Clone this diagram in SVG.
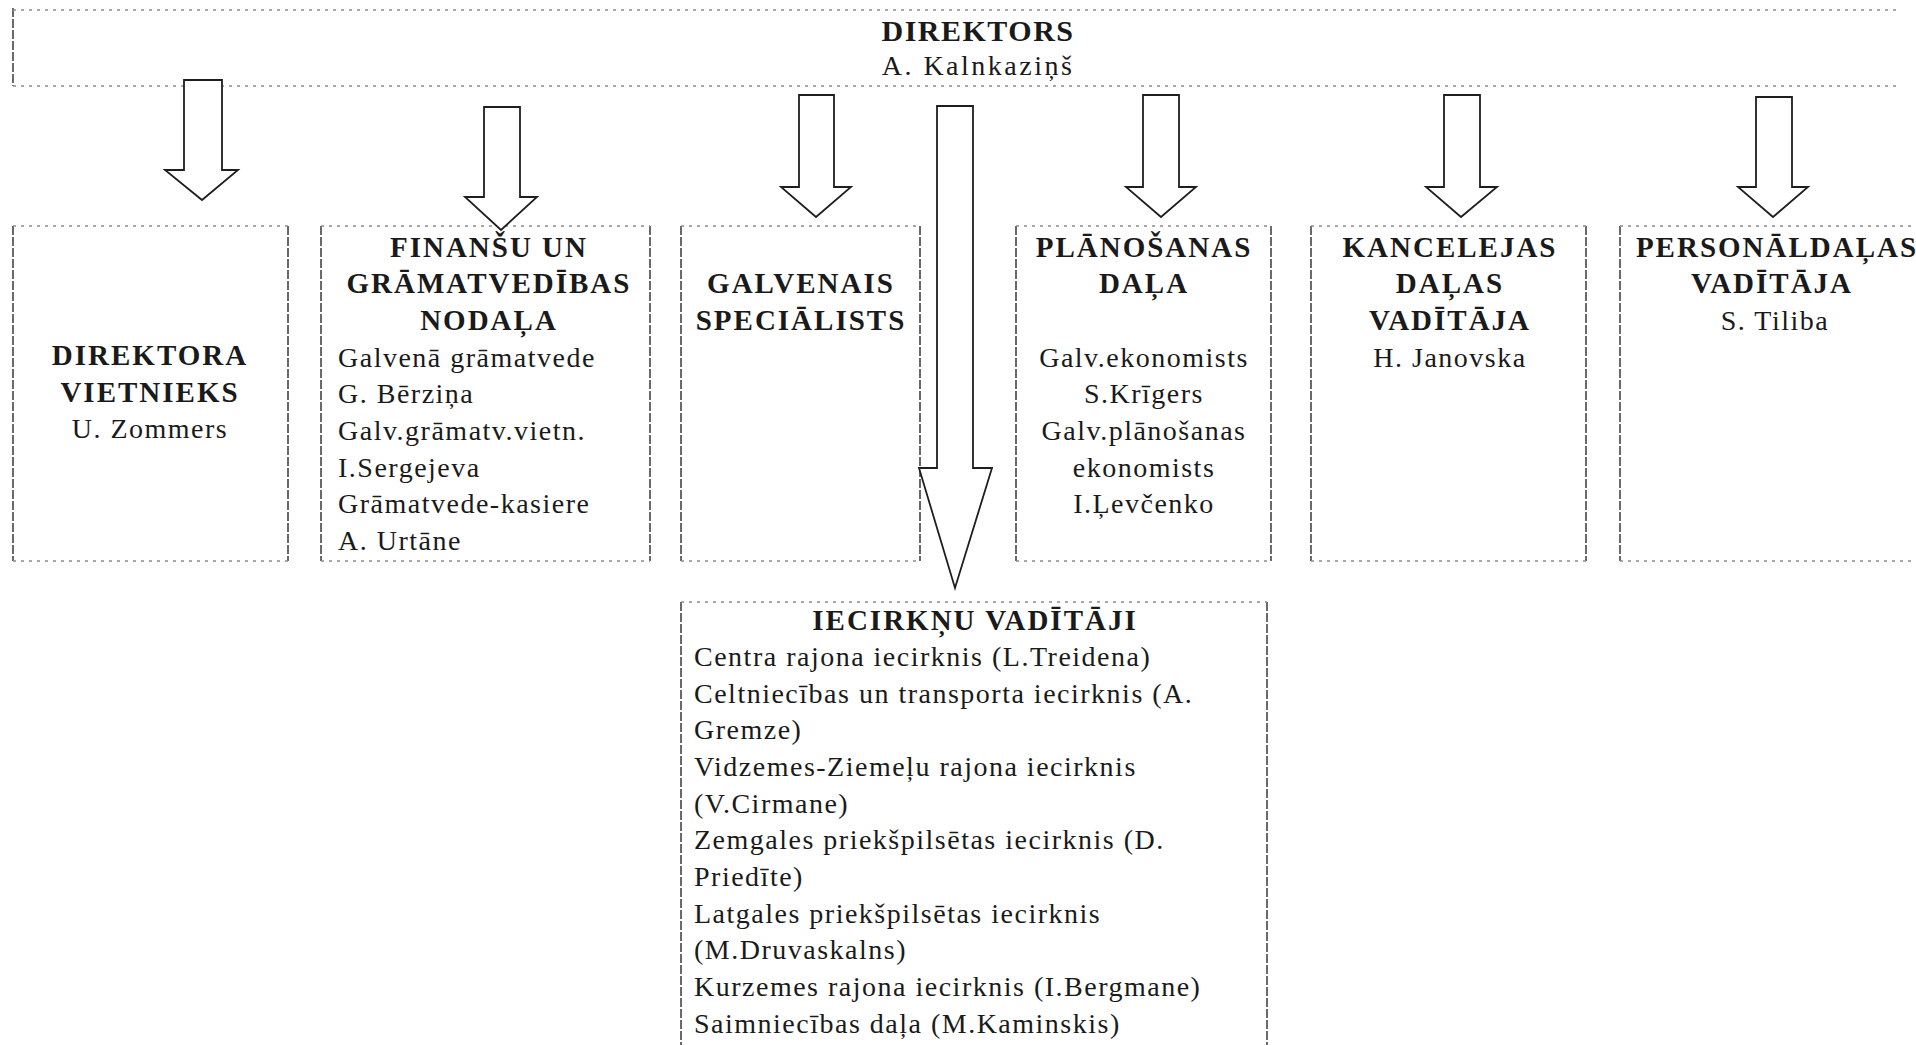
<svg xmlns="http://www.w3.org/2000/svg" width="1916" height="1045" viewBox="0 0 1916 1045">
<style>
.bg{fill:#ffffff}
.v{stroke:#3a3a3a;stroke-width:1.5;stroke-dasharray:9 2;fill:none}
.h{stroke:#8a8a8a;stroke-width:1.3;stroke-dasharray:3 5;fill:none}
.b{font-family:"Liberation Serif","Times New Roman",serif;font-weight:bold;font-size:29px;letter-spacing:2px;fill:#1a1a1a;text-anchor:middle}
.r{font-family:"Liberation Serif","Times New Roman",serif;font-size:28px;letter-spacing:1.5px;fill:#1a1a1a}
.c{text-anchor:middle}
.arrow{fill:#ffffff;stroke:#1e1e1e;stroke-width:1.8;stroke-linejoin:miter}
</style>
<rect class="bg" x="0" y="0" width="1916" height="1045"/>

<g id="director">
  <line class="v" x1="13" y1="8" x2="13" y2="86"/>
  <line class="h" x1="13" y1="10" x2="1900" y2="10"/>
  <line class="h" x1="13" y1="86" x2="1900" y2="86"/>
  <text class="b" x="978" y="41" style="font-size:30px;letter-spacing:1.5px">DIREKTORS</text>
  <text class="r c" x="978" y="75" style="font-size:28px;letter-spacing:2.5px">A. Kalnkaziņš</text>
</g>

<g id="deputy">
  <line class="v" x1="13" y1="226" x2="13" y2="561"/>
  <line class="v" x1="288" y1="226" x2="288" y2="561"/>
  <line class="h" x1="13" y1="226" x2="288" y2="226"/>
  <line class="h" x1="13" y1="561" x2="288" y2="561"/>
  <text class="b" x="150" y="365">DIREKTORA</text>
  <text class="b" x="150" y="402">VIETNIEKS</text>
  <text class="r c" x="150" y="438">U. Zommers</text>
</g>

<g id="finance">
  <line class="v" x1="321" y1="226" x2="321" y2="561"/>
  <line class="v" x1="650" y1="226" x2="650" y2="561"/>
  <line class="h" x1="321" y1="226" x2="650" y2="226"/>
  <line class="h" x1="321" y1="561" x2="650" y2="561"/>
  <text class="b" x="489" y="257">FINANŠU UN</text>
  <text class="b" x="489" y="293">GRĀMATVEDĪBAS</text>
  <text class="b" x="489" y="330">NODAĻA</text>
  <text class="r" x="338" y="367">Galvenā grāmatvede</text>
  <text class="r" x="338" y="403">G. Bērziņa</text>
  <text class="r" x="338" y="440">Galv.grāmatv.vietn.</text>
  <text class="r" x="338" y="477">I.Sergejeva</text>
  <text class="r" x="338" y="513">Grāmatvede-kasiere</text>
  <text class="r" x="338" y="550">A. Urtāne</text>
</g>

<g id="chief-specialist">
  <line class="v" x1="681" y1="226" x2="681" y2="561"/>
  <line class="v" x1="920" y1="226" x2="920" y2="561"/>
  <line class="h" x1="681" y1="226" x2="920" y2="226"/>
  <line class="h" x1="681" y1="561" x2="920" y2="561"/>
  <text class="b" x="801" y="293">GALVENAIS</text>
  <text class="b" x="801" y="330">SPECIĀLISTS</text>
</g>

<g id="planning">
  <line class="v" x1="1016" y1="226" x2="1016" y2="561"/>
  <line class="v" x1="1271" y1="226" x2="1271" y2="561"/>
  <line class="h" x1="1016" y1="226" x2="1271" y2="226"/>
  <line class="h" x1="1016" y1="561" x2="1271" y2="561"/>
  <text class="b" x="1144" y="257">PLĀNOŠANAS</text>
  <text class="b" x="1144" y="293">DAĻA</text>
  <text class="r c" x="1144" y="367">Galv.ekonomists</text>
  <text class="r c" x="1144" y="403">S.Krīgers</text>
  <text class="r c" x="1144" y="440">Galv.plānošanas</text>
  <text class="r c" x="1144" y="477">ekonomists</text>
  <text class="r c" x="1144" y="513">I.Ļevčenko</text>
</g>

<g id="chancellery">
  <line class="v" x1="1311" y1="226" x2="1311" y2="561"/>
  <line class="v" x1="1586" y1="226" x2="1586" y2="561"/>
  <line class="h" x1="1311" y1="226" x2="1586" y2="226"/>
  <line class="h" x1="1311" y1="561" x2="1586" y2="561"/>
  <text class="b" x="1450" y="257">KANCELEJAS</text>
  <text class="b" x="1450" y="293">DAĻAS</text>
  <text class="b" x="1450" y="330">VADĪTĀJA</text>
  <text class="r c" x="1450" y="367">H. Janovska</text>
</g>

<g id="personnel">
  <line class="v" x1="1620" y1="226" x2="1620" y2="561"/>
  <line class="h" x1="1620" y1="226" x2="1916" y2="226"/>
  <line class="h" x1="1620" y1="561" x2="1916" y2="561"/>
  <text class="b" x="1777" y="257">PERSONĀLDAĻAS</text>
  <text class="b" x="1772" y="293">VADĪTĀJA</text>
  <text class="r c" x="1775" y="330">S. Tiliba</text>
</g>

<g id="district-heads">
  <line class="v" x1="681" y1="602" x2="681" y2="1045"/>
  <line class="v" x1="1267" y1="602" x2="1267" y2="1045"/>
  <line class="h" x1="681" y1="602" x2="1267" y2="602"/>
  <text class="b" x="975" y="630">IECIRKŅU VADĪTĀJI</text>
  <text class="r" x="694" y="666">Centra rajona iecirknis (L.Treidena)</text>
  <text class="r" x="694" y="703">Celtniecības un transporta iecirknis (A.</text>
  <text class="r" x="694" y="739">Gremze)</text>
  <text class="r" x="694" y="776">Vidzemes-Ziemeļu rajona iecirknis</text>
  <text class="r" x="694" y="813">(V.Cirmane)</text>
  <text class="r" x="694" y="849">Zemgales priekšpilsētas iecirknis (D.</text>
  <text class="r" x="694" y="886">Priedīte)</text>
  <text class="r" x="694" y="923">Latgales priekšpilsētas iecirknis</text>
  <text class="r" x="694" y="959">(M.Druvaskalns)</text>
  <text class="r" x="694" y="996">Kurzemes rajona iecirknis (I.Bergmane)</text>
  <text class="r" x="694" y="1033">Saimniecības daļa (M.Kaminskis)</text>
</g>

<g id="connectors">
  <polygon class="arrow" points="184,80 222,80 222,170 238,170 202,200 165,170 184,170"/>
  <polygon class="arrow" points="484,107 520,107 520,197 537,197 501,230 465,197 484,197"/>
  <polygon class="arrow" points="799,95 834,95 834,187 851,187 816,217 781,187 799,187"/>
  <polygon class="arrow" points="937,106 973,106 973,468 992,468 955,588 919,468 937,468"/>
  <polygon class="arrow" points="1143,95 1179,95 1179,187 1196,187 1161,217 1126,187 1143,187"/>
  <polygon class="arrow" points="1444,95 1480,95 1480,187 1497,187 1461,217 1426,187 1444,187"/>
  <polygon class="arrow" points="1756,97 1792,97 1792,187 1808,187 1773,217 1738,187 1756,187"/>
</g>
</svg>
